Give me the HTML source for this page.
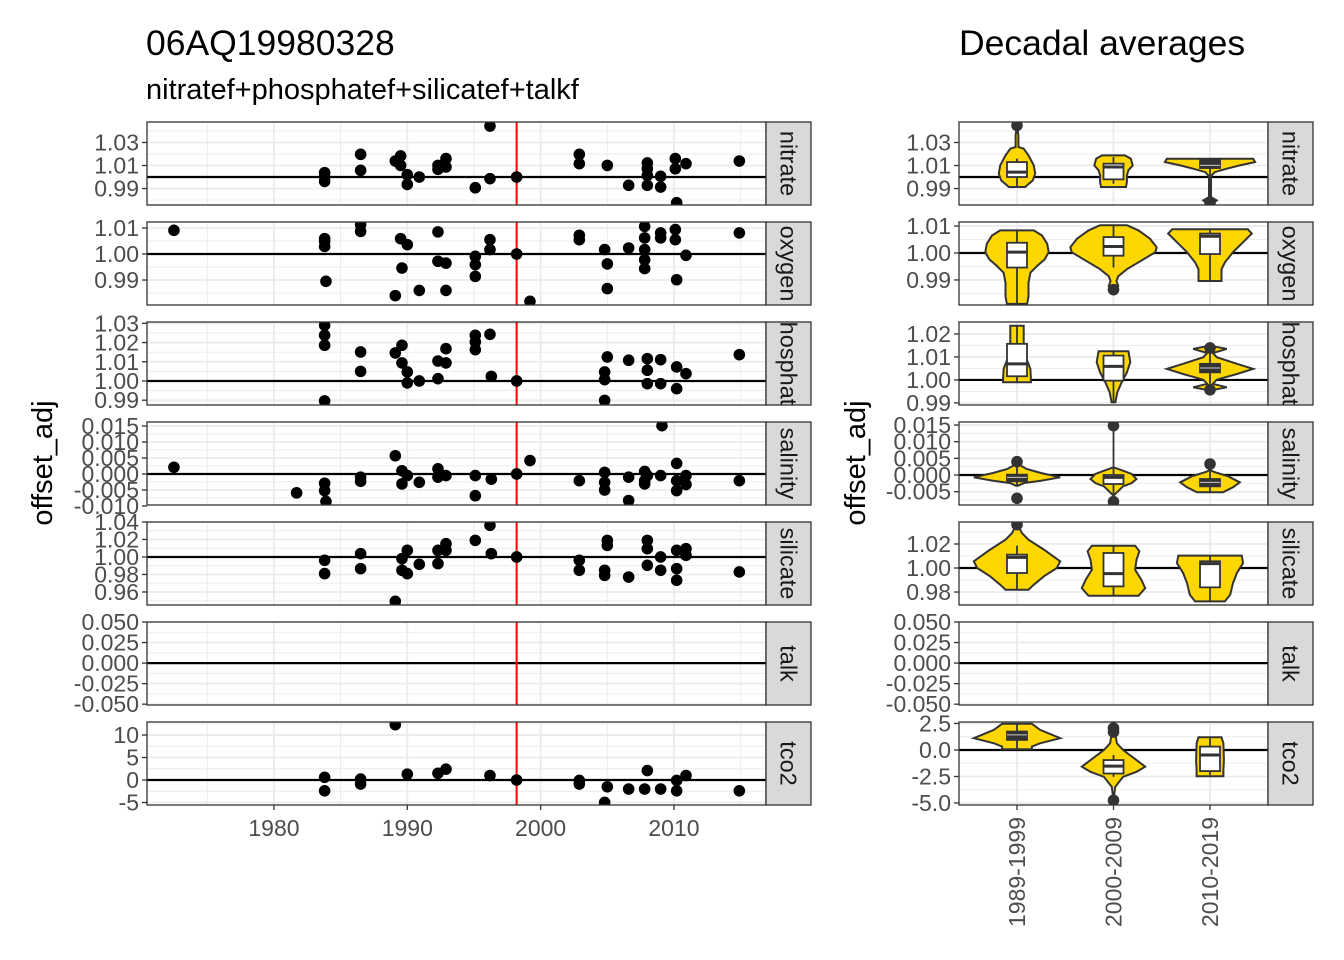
<!DOCTYPE html>
<html><head><meta charset="utf-8"><style>
html,body{margin:0;padding:0;background:#fff;}
svg{display:block;font-family:"Liberation Sans",Arial,sans-serif;}
</style></head><body>
<svg id="chart" width="1344" height="960" viewBox="0 0 1344 960" xmlns="http://www.w3.org/2000/svg">
<rect width="1344" height="960" fill="#fff"/>
<text x="146" y="55" font-size="35.5" fill="#000">06AQ19980328</text>
<text x="146" y="99" font-size="29" fill="#000">nitratef+phosphatef+silicatef+talkf</text>
<text x="959" y="55" font-size="35.5" fill="#000">Decadal averages</text>
<text transform="translate(52,463) rotate(-90)" text-anchor="middle" font-size="29" fill="#000">offset_adj</text>
<text transform="translate(865,463) rotate(-90)" text-anchor="middle" font-size="29" fill="#000">offset_adj</text>
<g id="root"></g>
</svg>
<script>
// ---------- DATA ----------
const panelNames = ["nitrate","oxygen","phosphate","salinity","silicate","talk","tco2"];
const refValues = [1,1,1,0,1,0,0];
const crossoverYear = 1998.2;
const xTickYears = [1980,1990,2000,2010];
const xTickLabels = ["1980","1990","2000","2010"];
const decades = ["1989-1999","2000-2009","2010-2019"];

const leftDomains = [[0.9757,1.0478],[0.9804,1.0123],[0.9875,1.0307],[-0.0097,0.01625],[0.9451,1.040],[-0.051,0.05],[-5.56,12.9]];
const rightDomains = [[0.9757,1.0478],[0.9807,1.0115],[0.9891,1.0252],[-0.009,0.0159],[0.9692,1.0383],[-0.051,0.05],[-5.19,2.64]];
const leftTicks = [[0.99,1.01,1.03],[0.99,1.00,1.01],[0.99,1.00,1.01,1.02,1.03],[-0.010,-0.005,0,0.005,0.010,0.015],[0.96,0.98,1.00,1.02,1.04],[-0.05,-0.025,0,0.025,0.05],[-5,0,5,10]];
const leftTickLabels = [["0.99","1.01","1.03"],["0.99","1.00","1.01"],["0.99","1.00","1.01","1.02","1.03"],["-0.010","-0.005","0.000","0.005","0.010","0.015"],["0.96","0.98","1.00","1.02","1.04"],["-0.050","-0.025","0.000","0.025","0.050"],["-5","0","5","10"]];
const rightTicks = [[0.99,1.01,1.03],[0.99,1.00,1.01],[0.99,1.00,1.01,1.02],[-0.005,0,0.005,0.010,0.015],[0.98,1.00,1.02],[-0.05,-0.025,0,0.025,0.05],[-5,-2.5,0,2.5]];
const rightTickLabels = [["0.99","1.01","1.03"],["0.99","1.00","1.01"],["0.99","1.00","1.01","1.02"],["-0.005","0.000","0.005","0.010","0.015"],["0.98","1.00","1.02"],["-0.050","-0.025","0.000","0.025","0.050"],["-5.0","-2.5","0.0","2.5"]];

// scatter points
const nitrateYears = [1983.8,1983.8,1983.8,1986.5,1986.5,1989.1,1989.5,1989.5,1990.0,1990.0,1990.9,1992.3,1992.3,1992.9,1992.9,1995.1,1996.2,1996.2,1998.2,2002.9,2002.9,2005.0,2006.6,2008.0,2008.0,2008.0,2008.0,2009.0,2009.0,2010.1,2010.1,2010.2,2010.9,2014.9];
const nitrateValues = [1.0038,1.0,0.9962,1.0197,1.0058,1.0139,1.0183,1.0101,1.002,0.9936,1.0,1.0101,1.0067,1.016,1.0087,0.9907,1.0443,0.9986,1.0,1.0197,1.0116,1.0101,0.9928,1.0122,1.0072,1.0014,0.9928,1.0006,0.9913,1.016,1.0072,0.9777,1.0116,1.0139];
const oxygenYears = [1972.5,1983.8,1983.8,1983.8,1983.9,1986.5,1986.5,1989.1,1989.5,1989.6,1990.0,1990.9,1992.3,1992.3,1992.9,1992.9,1995.1,1995.1,1995.1,1996.2,1996.2,1998.2,1999.2,2002.9,2002.9,2004.8,2005.0,2005.0,2006.6,2007.8,2007.8,2007.8,2007.8,2007.8,2009.0,2009.0,2010.1,2010.1,2010.2,2010.9,2014.9];
const oxygenValues = [1.0091,1.0059,1.0049,1.0029,0.9895,1.0113,1.0087,0.984,1.0059,0.9946,1.0036,0.986,1.0085,0.9972,0.9965,0.986,0.9991,0.9959,0.9914,1.0055,1.0017,1.0,0.9818,1.0072,1.0055,1.0017,0.9962,0.9867,1.0023,1.0106,1.0062,1.0017,0.9978,0.9944,1.0081,1.0062,1.0094,1.0055,0.9901,0.9995,1.0081];
const phosphateYears = [1983.8,1983.8,1983.8,1983.8,1986.5,1986.5,1989.1,1989.6,1989.6,1990.0,1990.0,1990.9,1992.3,1992.3,1992.9,1992.9,1995.1,1995.1,1995.1,1996.2,1996.3,1998.2,2004.8,2004.8,2004.8,2005.0,2006.6,2008.0,2008.0,2008.0,2009.0,2009.0,2010.2,2010.2,2010.9,2014.9];
const phosphateValues = [1.029,1.0238,1.0186,0.9896,1.0151,1.005,1.0146,1.0186,1.0094,1.0047,0.999,1.0,1.0104,1.0012,1.0168,1.0094,1.0238,1.0203,1.0163,1.0243,1.0024,1.0,1.0047,1.0007,0.9899,1.0125,1.0108,1.0116,1.0056,0.9986,1.0111,0.9986,1.0073,0.996,1.0038,1.0137];
const salinityYears = [1972.5,1981.7,1983.8,1983.8,1983.9,1986.5,1986.5,1989.1,1989.6,1989.6,1990.0,1990.9,1992.3,1992.3,1992.9,1995.1,1995.1,1996.3,1998.2,1999.2,2002.9,2004.8,2004.8,2004.8,2006.6,2006.6,2007.8,2007.8,2007.8,2008.0,2009.0,2009.1,2010.2,2010.2,2010.2,2010.9,2010.9,2014.9];
const salinityValues = [0.0021,-0.0059,-0.0029,-0.0052,-0.0086,-0.001,-0.0023,0.0057,0.001,-0.0031,-0.0005,-0.0026,0.0016,-0.001,-0.0005,-0.0005,-0.0068,-0.0016,0,0.0042,-0.0021,0.0005,-0.0026,-0.005,-0.001,-0.0083,0.0008,-0.0021,-0.0031,-0.0005,-0.0005,0.0151,0.0033,-0.0021,-0.0052,-0.0005,-0.0033,-0.0021];
const silicateYears = [1983.8,1983.8,1986.5,1986.5,1989.1,1989.6,1989.6,1990.0,1990.0,1990.9,1992.3,1992.3,1992.9,1992.9,1995.1,1996.2,1996.3,1998.2,2002.9,2002.9,2004.8,2004.8,2005.0,2005.0,2006.6,2008.0,2008.0,2008.0,2009.0,2009.0,2010.2,2010.2,2010.2,2010.9,2010.9,2014.9];
const silicateValues = [0.9962,0.981,1.0038,0.9867,0.9493,0.9981,0.9848,1.0076,0.981,0.9916,1.0076,0.9924,1.0152,1.0076,1.019,1.0362,1.0038,1.0,0.9962,0.9848,0.9848,0.979,1.019,1.0133,0.9771,1.019,1.0095,0.9905,1.0,0.9848,1.0076,0.9867,0.9733,1.0095,1.0019,0.9829];
const talkYears = [];
const talkValues = [];
const tco2Years = [1983.8,1983.8,1986.5,1986.5,1989.1,1990.0,1992.3,1992.9,1996.2,1998.2,2002.9,2002.9,2004.8,2005.0,2006.6,2007.8,2008.0,2009.0,2010.2,2010.2,2010.9,2014.9];
const tco2Values = [0.6,-2.4,0.2,-0.9,12.3,1.3,1.5,2.4,1.0,0,-0.1,-0.9,-5.0,-1.5,-2.0,-2.0,2.1,-2.0,-0.1,-2.4,1.0,-2.4];

// violin density profiles (value, relative half-width) per panel, per decade
const violinValues = [
 [[1.0449,1.0362,1.0261,1.0246,1.0188,1.0101,1.0029,0.9971,0.9928,0.9913],[1.0188,1.0159,1.0101,1.0058,1.0014,0.9957,0.9913],[1.0159,1.013,1.0101,1.0072,1.0043,1.0014,0.9986,0.9826,0.9797,0.9768]],
 [[1.0084,1.0065,1.0034,1.0003,0.9977,0.9952,0.9927,0.9889,0.9839,0.9811],[1.0103,1.0084,1.0053,1.0021,1.0003,0.9977,0.994,0.9914,0.9896,0.9877,0.9862],[1.0088,1.0072,1.004,1.0003,0.9965,0.994,0.9914,0.9896]],
 [[1.0236,1.0149,1.0106,1.0048,1.0004,0.999],[1.0125,1.0077,1.0033,0.999,0.9946,0.9903],[1.0149,1.0135,1.0117,1.0099,1.007,1.0048,1.0026,1.0001,0.9983,0.9968,0.9954]],
 [[0.0033,0.0018,0.0006,-0.0007,-0.0017,-0.0024,-0.0032],[0.0023,0.0016,0.0003,-0.0012,-0.0024,-0.0034,-0.0052,-0.0062],[0.0016,0.001,-0.0004,-0.0022,-0.0037,-0.0052]],
 [[1.0347,1.0292,1.0236,1.0153,1.0056,1.0,0.9931,0.9861,0.9819],[1.0186,1.0139,1.0069,0.9986,0.9903,0.9833,0.9769],[1.0103,1.0042,0.9958,0.9875,0.9778,0.9722]],
 [[],[],[]],
 [[2.47,1.9,1.11,0.63,0.32,0.06],[1.58,0.63,0,-0.95,-1.58,-2.06,-2.53,-3.48,-4.75],[1.2,0.63,-0.95,-1.9,-2.47]]
];
const violinWidths = [
 [[0,0.03,0.03,0.14,0.24,0.35,0.38,0.33,0.21,0.17],[0.24,0.36,0.40,0.31,0.28,0.28,0.26],[0.9,0.94,0.62,0.35,0.1,0.035,0.02,0.02,0.14,0.05]],
 [[0.35,0.52,0.63,0.66,0.58,0.42,0.28,0.24,0.24,0.21],[0.28,0.52,0.76,0.9,0.87,0.63,0.28,0.1,0.06,0.1,0],[0.79,0.87,0.69,0.48,0.31,0.24,0.24,0.24]],
 [[0.14,0.14,0.17,0.28,0.29,0.29],[0.31,0.35,0.28,0.17,0.08,0.04],[0,0.35,0.06,0.14,0.56,0.9,0.56,0.14,0.06,0.35,0]],
 [[0.02,0.2,0.5,0.9,0.5,0.15,0.02],[0,0.14,0.38,0.48,0.38,0.2,0.07,0],[0,0.07,0.38,0.62,0.48,0.27]],
 [[0.035,0.1,0.24,0.56,0.9,0.83,0.56,0.35,0.24],[0.45,0.54,0.48,0.45,0.58,0.66,0.52],[0.66,0.69,0.56,0.48,0.42,0.31]],
 [[],[],[]],
 [[0.31,0.48,0.9,0.48,0.31,0.31],[0.035,0.07,0.2,0.48,0.66,0.48,0.2,0.035,0],[0.24,0.28,0.29,0.28,0.28]]
];
// boxplot stats: [whiskerLow, q1, median, q3, whiskerHigh]
const boxStats = [
 [[0.9913,1.0,1.0043,1.013,1.016],[0.9942,0.998,1.0087,1.0116,1.0174],[0.9826,1.0078,1.0101,1.0151,1.0159]],
 [[0.9811,0.9946,1.0003,1.0038,1.0084],[0.9946,0.999,1.0024,1.0059,1.0103],[0.9896,0.9996,1.0062,1.0072,1.0084]],
 [[0.999,1.0016,1.007,1.0157,1.0236],[0.9903,0.9997,1.0059,1.0106,1.0125],[0.9983,1.0033,1.0052,1.007,1.0117]],
 [[-0.0032,-0.0019,-0.0007,0.0001,0.0028],[-0.0062,-0.0027,-0.0007,0,0.0148],[-0.0052,-0.0034,-0.0022,-0.0012,0.0018]],
 [[0.9819,0.9958,1.0089,1.0111,1.0186],[0.9769,0.9847,0.9953,1.0125,1.0186],[0.9722,0.9839,1.0036,1.0056,1.0103]],
 null,
 [[0.06,0.95,1.42,1.74,2.47],[-2.53,-2.22,-1.52,-0.95,-0.47],[-2.37,-1.99,-0.47,0.32,1.11]]
];
const outliers = [
 [[1.0449],[],[0.9777]],
 [[],[0.9864],[]],
 [[],[],[1.0139,0.9957]],
 [[0.004,-0.007],[0.0148,-0.008],[0.0033]],
 [[1.0361],[],[]],
 [[],[],[]],
 [[],[2.06,1.7,-4.75],[]]
];
const scatterYears = [nitrateYears,oxygenYears,phosphateYears,salinityYears,silicateYears,talkYears,tco2Years];
const scatterValues = [nitrateValues,oxygenValues,phosphateValues,salinityValues,silicateValues,talkValues,tco2Values];

// ---------- LAYOUT ----------
const NS = "http://www.w3.org/2000/svg";
const root = document.getElementById("root");
const panelTops = [122,222,322,422,522,622,722];
const PH = 83;
const L = {x0:147,x1:766,s1:811};
const R = {x0:959,x1:1268,s1:1313};
const yearDomain = [1970.48,2016.9];
const catPos = [1017,1113.5,1210];
const VW = 48;
const TF = 23;
function el(tag, attrs, parent){const e=document.createElementNS(NS,tag);for(const k in attrs)e.setAttribute(k,attrs[k]);(parent||root).appendChild(e);return e;}
function xYear(y){return L.x0+(y-yearDomain[0])/(yearDomain[1]-yearDomain[0])*(L.x1-L.x0);}
function yScale(dom,top){return v=>top+PH-(v-dom[0])/(dom[1]-dom[0])*PH;}
function minors(ticks,dom){const m=[];const st=ticks[1]-ticks[0];for(let i=-1;i<ticks.length;i++){const v=(i<0?ticks[0]-st/2:ticks[i]+st/2);if(v>dom[0]&&v<dom[1])m.push(v);}return m;}

let clipId=0;
function drawPanel(i, side){
  const P = side==="left"?L:R;
  const dom = side==="left"?leftDomains[i]:rightDomains[i];
  const ticks = side==="left"?leftTicks[i]:rightTicks[i];
  const labels = side==="left"?leftTickLabels[i]:rightTickLabels[i];
  const top = panelTops[i];
  const ys = yScale(dom,top);
  const g = el("g",{});
  
  
  const cid="c"+(clipId++);
  const cp=el("clipPath",{id:cid},g);el("rect",{x:P.x0,y:top,width:P.x1-P.x0,height:PH},cp);
  const inner=el("g",{"clip-path":"url(#"+cid+")"},g);
  minors(ticks,dom).forEach(v=>el("line",{x1:P.x0,x2:P.x1,y1:ys(v),y2:ys(v),stroke:"#ebebeb","stroke-width":0.9},inner));
  if(side==="left"){
    [1975,1985,1995,2005,2015].forEach(yr=>el("line",{x1:xYear(yr),x2:xYear(yr),y1:top,y2:top+PH,stroke:"#ebebeb","stroke-width":0.9},inner));
    xTickYears.forEach(yr=>el("line",{x1:xYear(yr),x2:xYear(yr),y1:top,y2:top+PH,stroke:"#ebebeb","stroke-width":1.8},inner));
  } else {
    catPos.forEach(cx=>el("line",{x1:cx,x2:cx,y1:top,y2:top+PH,stroke:"#ebebeb","stroke-width":1.8},inner));
  }
  ticks.forEach(v=>el("line",{x1:P.x0,x2:P.x1,y1:ys(v),y2:ys(v),stroke:"#ebebeb","stroke-width":1.8},inner));
  const ref=el("line",{x1:P.x0,x2:P.x1,y1:ys(refValues[i]),y2:ys(refValues[i]),stroke:"#000","stroke-width":2.2},inner);
  
  
  if(side==="left"){
    const rl=el("line",{x1:xYear(crossoverYear),x2:xYear(crossoverYear),y1:top,y2:top+PH,stroke:"#ff0000","stroke-width":2},inner);
    
    
    const yrs=scatterYears[i], vals=scatterValues[i];
    for(let k=0;k<yrs.length;k++){
      const c=el("circle",{cx:xYear(yrs[k]),cy:ys(vals[k]),r:5.8,fill:"#000"},inner);
      
      
    }
  } else if(boxStats[i]){
    for(let d=0;d<3;d++){
      const cx=catPos[d], vv=violinValues[i][d], ww=violinWidths[i][d];
      let pts=[];
      for(let k=0;k<vv.length;k++)pts.push((cx+ww[k]*VW).toFixed(1)+","+ys(vv[k]).toFixed(1));
      for(let k=vv.length-1;k>=0;k--)pts.push((cx-ww[k]*VW).toFixed(1)+","+ys(vv[k]).toFixed(1));
      const vp=el("path",{d:"M"+pts.join("L")+"Z",fill:"#FFD700",stroke:"#333","stroke-width":2},inner);
      
      
      const b=boxStats[i][d];
      el("line",{x1:cx,x2:cx,y1:ys(b[0]),y2:ys(b[1]),stroke:"#333","stroke-width":1.8},inner);
      el("line",{x1:cx,x2:cx,y1:ys(b[3]),y2:ys(b[4]),stroke:"#333","stroke-width":1.8},inner);
      const h=ys(b[1])-ys(b[3]);
      const dark=h<9;
      const bx=el("rect",{x:cx-10,y:ys(b[3]),width:20,height:h,fill:dark?"#333":"#fff",stroke:"#333","stroke-width":1.8},inner);
      
      
      el("line",{x1:cx-10,x2:cx+10,y1:ys(b[2]),y2:ys(b[2]),stroke:dark?"#ccc":"#333","stroke-width":dark?1:3},inner);
      outliers[i][d].forEach(v=>{
        const o=el("circle",{cx:cx,cy:ys(v),r:5.8,fill:"#333"},inner);
        
        
      });
    }
  }
  el("rect",{x:P.x0,y:top,width:P.x1-P.x0,height:PH,fill:"none",stroke:"#333","stroke-width":1.3},g);
  ticks.forEach((v,k)=>{
    el("line",{x1:P.x0-5,x2:P.x0,y1:ys(v),y2:ys(v),stroke:"#333","stroke-width":1.3},g);
    const t=el("text",{x:P.x0-8,y:ys(v)+8,"text-anchor":"end","font-size":TF,fill:"#4d4d4d"},g);
    t.textContent=labels[k];
    
    
  });
  const scid="s"+(clipId++);
  const scp=el("clipPath",{id:scid},g);el("rect",{x:P.x1,y:top,width:P.s1-P.x1,height:PH},scp);
  const sr=el("rect",{x:P.x1,y:top,width:P.s1-P.x1,height:PH,fill:"#d9d9d9",stroke:"#333","stroke-width":1.3},g);
  
  
  const sg=el("g",{"clip-path":"url(#"+scid+")"},g);
  const st=el("text",{transform:"translate("+((P.x1+P.s1)/2-8)+","+(top+PH/2)+") rotate(90)","text-anchor":"middle","font-size":23.5,fill:"#1a1a1a"},sg);
  st.textContent=panelNames[i];
  
  
}
for(let i=0;i<7;i++){drawPanel(i,"left");drawPanel(i,"right");}
const axY = panelTops[6]+PH;
xTickYears.forEach((yr,k)=>{
  el("line",{x1:xYear(yr),x2:xYear(yr),y1:axY,y2:axY+5,stroke:"#333","stroke-width":1.3});
  const t=el("text",{x:xYear(yr),y:axY+31,"text-anchor":"middle","font-size":TF,fill:"#4d4d4d"});
  t.textContent=xTickLabels[k];
  
  
});
decades.forEach((d,k)=>{
  el("line",{x1:catPos[k],x2:catPos[k],y1:axY,y2:axY+5,stroke:"#333","stroke-width":1.3});
  const t=el("text",{transform:"translate("+(catPos[k]+8)+","+(axY+12)+") rotate(-90)","text-anchor":"end","font-size":TF,fill:"#4d4d4d"});
  t.textContent=d;
  
  
});
</script>
</body></html>
